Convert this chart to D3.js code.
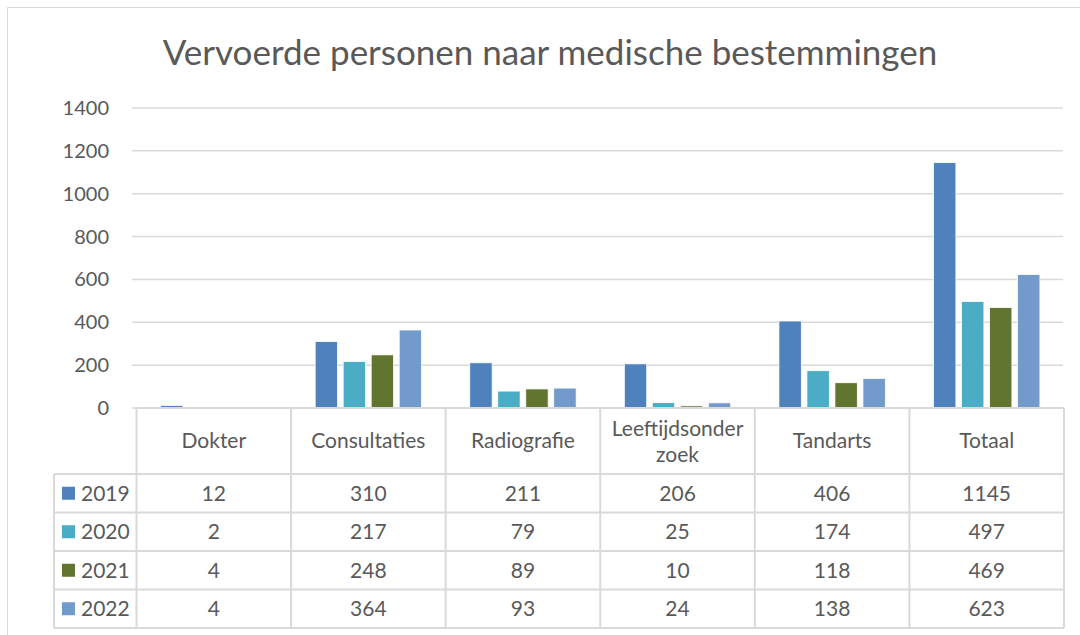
<!DOCTYPE html>
<html>
<head>
<meta charset="utf-8">
<script src="https://cdn.jsdelivr.net/npm/d3@7"></script>
<style>
  body { margin: 0; background: #fff; }
  svg text { font-family: Lato, "Open Sans", sans-serif; fill: #595959; }
</style>
</head>
<body>
<svg id="chart" width="1080" height="635"></svg>
<script>
// Data
const categories = ["Dokter", "Consultaties", "Radiografie", "Leeftijdsonder\nzoek", "Tandarts", "Totaal"];
const years = ["2019", "2020", "2021", "2022"];
const values2019 = [12, 310, 211, 206, 406, 1145];
const values2020 = [2, 217, 79, 25, 174, 497];
const values2021 = [4, 248, 89, 10, 118, 469];
const values2022 = [4, 364, 93, 24, 138, 623];
const yTicks = [0, 200, 400, 600, 800, 1000, 1200, 1400];
const colors = ["#4f81bd", "#4bacc6", "#627530", "#729aca"];

const series = [values2019, values2020, values2021, values2022];

const svg = d3.select("#chart");

// outer chart border
svg.append("path")
    .attr("d", "M7.5,640 V7.5 H1085")
    .attr("fill", "none")
    .attr("stroke", "#d9d9d9")
    .attr("stroke-width", 1);

// title
svg.append("text")
    .attr("x", 550)
    .attr("y", 65)
    .attr("text-anchor", "middle")
    .style("font-size", "35px")
    .text("Vervoerde personen naar medische bestemmingen");

// scales
const x0 = d3.scaleBand().domain(categories).range([136.5, 1064]);
const x1 = d3.scaleBand().domain(years).range([0, x0.bandwidth()])
    .paddingInner(0.2).paddingOuter(0.86);
const y = d3.scaleLinear().domain([0, 1400]).range([408, 108]);

// gridlines
svg.append("g")
    .selectAll("line")
    .data(yTicks)
    .enter()
    .append("line")
    .attr("x1", 132)
    .attr("x2", 1063)
    .attr("y1", d => y(d))
    .attr("y2", d => y(d))
    .attr("stroke", "#d9d9d9")
    .attr("stroke-width", 1.5);

// y axis labels
svg.append("g")
    .selectAll("text")
    .data(yTicks)
    .enter()
    .append("text")
    .attr("x", 109)
    .attr("y", d => y(d) + 7)
    .attr("text-anchor", "end")
    .style("font-size", "20px")
    .text(d => d);

// bars
const groups = svg.append("g")
    .selectAll("g")
    .data(categories)
    .enter()
    .append("g")
    .attr("transform", d => "translate(" + x0(d) + ",0)");

groups.selectAll("rect")
    .data((d, i) => years.map((yr, j) => ({year: yr, value: series[j][i], j: j})))
    .enter()
    .append("rect")
    .attr("x", d => x1(d.year))
    .attr("y", d => y(d.value))
    .attr("width", x1.bandwidth())
    .attr("height", d => y(0) - y(d.value))
    .attr("fill", d => colors[d.j])
    .attr("stroke", "#ffffff")
    .attr("stroke-width", 0.8);

// data table
const headerTop = 408, headerBottom = 474, rowH = 38.5;
const tableLeft = 54;
const table = svg.append("g").attr("id", "table");
const lineCol = "#d9d9d9";

// horizontal lines
table.append("line")
    .attr("x1", x0.range()[0]).attr("x2", x0.range()[1])
    .attr("y1", headerTop).attr("y2", headerTop)
    .attr("stroke", lineCol).attr("stroke-width", 2);
d3.range(years.length + 1).forEach(i => {
    table.append("line")
        .attr("x1", tableLeft).attr("x2", x0.range()[1])
        .attr("y1", headerBottom + i * rowH).attr("y2", headerBottom + i * rowH)
        .attr("stroke", lineCol).attr("stroke-width", 2);
});
// vertical lines
table.append("line")
    .attr("x1", tableLeft).attr("x2", tableLeft)
    .attr("y1", headerBottom).attr("y2", headerBottom + years.length * rowH)
    .attr("stroke", lineCol).attr("stroke-width", 2);
categories.concat([null]).forEach((c, i) => {
    const xx = c ? x0(c) : x0.range()[1];
    table.append("line")
        .attr("x1", xx).attr("x2", xx)
        .attr("y1", headerTop).attr("y2", headerBottom + years.length * rowH)
        .attr("stroke", lineCol).attr("stroke-width", 2);
});

// header labels
categories.forEach(c => {
    const lines = c.split("\n");
    const cx = x0(c) + x0.bandwidth() / 2;
    const t = table.append("text")
        .attr("x", cx)
        .attr("text-anchor", "middle")
        .style("font-size", "21px");
    const cy = (headerTop + headerBottom) / 2 + 7 - (lines.length - 1) * 12.5;
    lines.forEach((l, k) => {
        t.append("tspan").attr("x", cx).attr("y", cy + k * 26).text(l);
    });
});

// rows
years.forEach((yr, j) => {
    const rowMid = headerBottom + j * rowH + rowH / 2;
    table.append("rect")
        .attr("x", 62)
        .attr("y", rowMid - 6.5)
        .attr("width", 13)
        .attr("height", 13)
        .attr("fill", colors[j]);
    table.append("text")
        .attr("x", 81)
        .attr("y", rowMid + 7.5)
        .style("font-size", "21px")
        .text(yr);
    categories.forEach((c, i) => {
        table.append("text")
            .attr("x", x0(c) + x0.bandwidth() / 2)
            .attr("y", rowMid + 7.5)
            .attr("text-anchor", "middle")
            .style("font-size", "21px")
            .text(series[j][i]);
    });
});
</script>
</body>
</html>
